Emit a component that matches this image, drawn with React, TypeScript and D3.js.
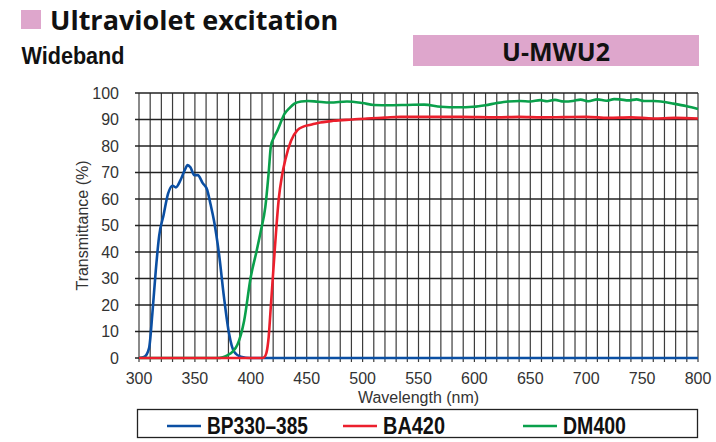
import { useEffect, useRef } from "react";
import * as d3 from "d3";

// Transmittance curves (wavelength nm, transmittance %)
const bpWave = [300, 305, 309, 312, 315, 318, 322, 326, 330, 333, 337, 341, 343.5, 346, 349.5, 352.5, 357, 361, 364, 367, 371.5, 376, 380.5, 385, 391, 400, 800];
const bpTrans = [0, 0.5, 3.7, 17, 33, 46, 54, 62, 65, 64.4, 67, 71, 72.8, 72, 69, 69, 66, 63.4, 58, 52, 39.5, 23, 9.3, 2.4, 0.5, 0, 0];

const dmWave = [300, 370, 375, 379, 384, 388, 394, 400, 405, 409, 413, 416, 418, 421, 424, 430, 435, 439, 445, 451, 460, 471, 486, 500, 510, 525, 540, 555, 570, 585, 599, 610, 620, 630, 641, 650, 659, 665, 672, 680, 688, 695, 702, 710, 718, 725, 730, 738, 745, 752, 760, 770, 778, 790, 800];
const dmTrans = [0, 0, 0.3, 1, 2.5, 5, 14, 30.7, 40, 48, 57, 70, 80, 83.5, 86, 92, 94.5, 96, 96.8, 97, 96.7, 96.4, 96.8, 96.2, 95.5, 95.4, 95.5, 95.6, 94.8, 94.6, 94.8, 95.4, 96.2, 96.8, 97, 96.8, 97.3, 96.9, 97.4, 96.8, 97, 97.5, 96.9, 97.6, 97.1, 97.7, 97.6, 97.2, 97.6, 97, 97, 96.6, 96, 95, 94];

const baWave = [300, 410, 412, 414, 416, 418, 420.8, 423, 425, 428, 431, 436, 441.7, 447, 453.6, 460, 474, 490, 504, 520, 534, 560, 588, 620, 640, 660, 680, 700, 720, 740, 760, 780, 800];
const baTrans = [0, 0, 0.3, 2, 8, 20, 37, 50, 60, 69, 75, 82, 86, 87.3, 88, 88.7, 89.5, 90, 90.4, 90.7, 91, 91, 91, 90.8, 91, 90.8, 90.9, 91, 90.6, 90.8, 90.4, 90.6, 90.4];

const xTicks = [300, 350, 400, 450, 500, 550, 600, 650, 700, 750, 800];
const yTicks = [0, 10, 20, 30, 40, 50, 60, 70, 80, 90, 100];

const series = [
  { name: "BP330–385", wave: bpWave, trans: bpTrans, color: "#0b4fa3" },
  { name: "DM400", wave: dmWave, trans: dmTrans, color: "#0aa04b" },
  { name: "BA420", wave: baWave, trans: baTrans, color: "#ec1f2c" },
];

const legendItems = [
  { name: "BP330–385", color: "#0b4fa3", x: 167, len: 101 },
  { name: "BA420", color: "#ec1f2c", x: 343, len: 62 },
  { name: "DM400", color: "#0aa04b", x: 523, len: 63 },
];

const W = 716;
const H = 442;
const PLOT = { left: 139, right: 698, top: 93, bottom: 358 };
const PINK = "#dea6cc";
const LABEL_FONT = "'Liberation Sans', Arial, sans-serif";

export default function App() {
  const svgRef = useRef<SVGSVGElement>(null);

  useEffect(() => {
    const svg = d3.select(svgRef.current);
    svg.selectAll("*").remove();
    svg.attr("width", W).attr("height", H).attr("viewBox", `0 0 ${W} ${H}`);

    svg.append("rect").attr("width", W).attr("height", H).attr("fill", "#ffffff");

    const x = d3.scaleLinear().domain([300, 800]).range([PLOT.left, PLOT.right]);
    const y = d3.scaleLinear().domain([0, 100]).range([PLOT.bottom, PLOT.top]);

    // Header
    svg.append("rect").attr("x", 21).attr("y", 10).attr("width", 20).attr("height", 19).attr("fill", PINK);
    svg.append("text")
      .attr("x", 50).attr("y", 29.5)
      .attr("font-family", "'Open Sans', sans-serif")
      .attr("font-weight", "bold")
      .attr("font-size", "27px")
      .attr("fill", "#111")
      .text("Ultraviolet excitation");
    svg.append("text")
      .attr("x", 21.5).attr("y", 63.5)
      .attr("font-family", LABEL_FONT)
      .attr("font-weight", "bold")
      .attr("font-size", "23px")
      .attr("textLength", 103)
      .attr("lengthAdjust", "spacingAndGlyphs")
      .attr("fill", "#111")
      .text("Wideband");
    svg.append("rect").attr("x", 413).attr("y", 35).attr("width", 286).attr("height", 31).attr("fill", PINK);
    svg.append("text")
      .attr("x", 556).attr("y", 60.5)
      .attr("text-anchor", "middle")
      .attr("font-family", "'Open Sans', sans-serif")
      .attr("font-weight", "bold")
      .attr("font-size", "25px")
      .attr("fill", "#111")
      .text("U-MWU2");

    // Grid
    const g = svg.append("g");
    d3.range(300, 801, 10).forEach((v) => {
      g.append("line")
        .attr("x1", x(v)).attr("x2", x(v))
        .attr("y1", PLOT.top).attr("y2", PLOT.bottom + 4)
        .attr("stroke", "#3c3c3c").attr("stroke-width", 1.2);
    });
    yTicks.forEach((v) => {
      g.append("line")
        .attr("x1", PLOT.left - 4).attr("x2", PLOT.right)
        .attr("y1", y(v)).attr("y2", y(v))
        .attr("stroke", "#222").attr("stroke-width", 1.3);
    });

    // Tick labels
    xTicks.forEach((v) => {
      svg.append("text")
        .attr("x", x(v)).attr("y", 383.5)
        .attr("text-anchor", "middle")
        .attr("font-family", LABEL_FONT)
        .attr("font-size", "16px")
        .attr("fill", "#333")
        .text(v);
    });
    yTicks.forEach((v) => {
      svg.append("text")
        .attr("x", 119).attr("y", y(v))
        .attr("text-anchor", "end")
        .attr("dominant-baseline", "central")
        .attr("font-family", LABEL_FONT)
        .attr("font-size", "16px")
        .attr("fill", "#333")
        .text(v);
    });

    svg.append("text")
      .attr("transform", `translate(88,${(PLOT.top + PLOT.bottom) / 2}) rotate(-90)`)
      .attr("text-anchor", "middle")
      .attr("font-family", LABEL_FONT)
      .attr("font-size", "16px")
      .attr("fill", "#333")
      .text("Transmittance (%)");
    svg.append("text")
      .attr("x", (PLOT.left + PLOT.right) / 2).attr("y", 402.5)
      .attr("text-anchor", "middle")
      .attr("font-family", LABEL_FONT)
      .attr("font-size", "16px")
      .attr("fill", "#333")
      .text("Wavelength (nm)");

    // Curves
    series.forEach((s) => {
      const pts = s.wave.map((w, i) => [w, s.trans[i]] as [number, number]);
      const line = d3.line<[number, number]>()
        .x((d) => x(d[0]))
        .y((d) => y(d[1]))
        .curve(d3.curveMonotoneX);
      svg.append("path")
        .attr("d", line(pts))
        .attr("fill", "none")
        .attr("stroke", s.color)
        .attr("stroke-width", 2.6)
        .attr("stroke-linejoin", "round");
    });

    // Legend
    svg.append("rect")
      .attr("x", 137.5).attr("y", 409.5)
      .attr("width", 560).attr("height", 28)
      .attr("fill", "none")
      .attr("stroke", "#222").attr("stroke-width", 1.3);
    legendItems.forEach((it) => {
      svg.append("line")
        .attr("x1", it.x).attr("x2", it.x + 34)
        .attr("y1", 426).attr("y2", 426)
        .attr("stroke", it.color).attr("stroke-width", 2.6);
      svg.append("text")
        .attr("x", it.x + 40).attr("y", 434)
        .attr("font-family", LABEL_FONT)
        .attr("font-weight", "bold")
        .attr("font-size", "23px")
        .attr("textLength", it.len)
        .attr("lengthAdjust", "spacingAndGlyphs")
        .attr("fill", "#111")
        .text(it.name);
    });
  }, []);

  return <svg ref={svgRef} style={{ position: "absolute", left: 0, top: 0 }} />;
}
